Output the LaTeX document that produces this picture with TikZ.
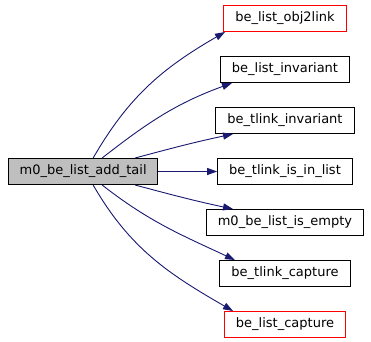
\documentclass[tikz,border=0pt]{standalone}
\usepackage{fontspec}
\setmainfont{DejaVu Sans}
\usetikzlibrary{arrows.meta,positioning}
\definecolor{edgeblue}{HTML}{191970}
\definecolor{mainfill}{HTML}{BFBFBF}
\definecolor{extred}{HTML}{FF0000}
\tikzset{
  fn/.style={draw,rectangle,line width=1pt,inner xsep=11.5pt,minimum height=26pt,font=\fontsize{13}{15}\selectfont},
  fnext/.style={fn,color=extred,text=black},
  fnmain/.style={fn,fill=mainfill,inner xsep=11pt},
  call/.style={-{Triangle[length=10pt,width=7pt]},edgeblue,line width=0.9pt}
}

\begin{document}
\begin{tikzpicture}[node distance=24pt and 59pt]
\useasboundingbox (0,0) rectangle (371pt,-341pt);

\node[fnext] (objlink) at (285pt,-18.5pt) {be\_list\_obj2link};
\node[fn,below=of objlink] (listinv) {be\_list\_invariant};
\node[fn,below=of listinv] (tlinkinv) {be\_tlink\_invariant};
\node[fn,below=of tlinkinv] (inlist) {be\_tlink\_is\_in\_list};
\node[fn,below=of inlist] (isempty) {m0\_be\_list\_is\_empty};
\node[fn,below=of isempty] (tcapture) {be\_tlink\_capture};
\node[fnext,below=of tcapture] (lcapture) {be\_list\_capture};

\node[fnmain,left=of inlist] (addtail) {m0\_be\_list\_add\_tail};

\draw[call] ([xshift=10pt]addtail.north) to[out=60,in=210] ([xshift=-60pt]objlink.south);
\draw[call] ([xshift=19pt]addtail.north) to[out=38,in=200] ([xshift=-53pt]listinv.south);
\draw[call] ([xshift=52pt]addtail.north) to[out=15,in=192] ([xshift=-52pt]tlinkinv.south);
\draw[call] (addtail) -- (inlist);
\draw[call] ([xshift=52pt]addtail.south) to[out=-15,in=168] ([xshift=-52pt]isempty.north);
\draw[call] ([xshift=19pt]addtail.south) to[out=-38,in=155] ([xshift=-50pt]tcapture.north);
\draw[call] ([xshift=10pt]addtail.south) to[out=-60,in=150] ([xshift=-52pt]lcapture.north);

\end{tikzpicture}
\end{document}
